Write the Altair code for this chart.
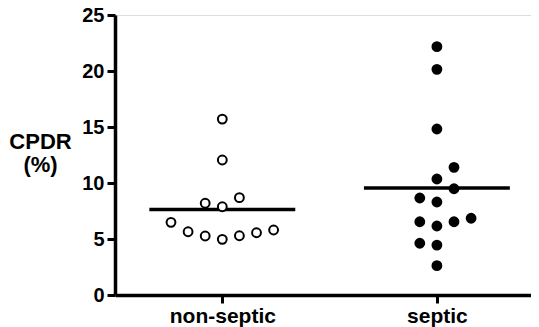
import altair as alt
import pandas as pd

groups = ["non-septic", "septic"]
group_pos = [1, 2]

nonseptic_values = [15.71, 12.05, 8.19, 7.88, 8.69, 6.49, 5.65, 5.27, 4.97, 5.29, 5.56, 5.80]
nonseptic_slots = [0, 0, -1, 0, 1, -3, -2, -1, 0, 1, 2, 3]

septic_values = [22.17, 20.15, 14.82, 11.40, 10.36, 9.49, 8.66, 8.30, 6.54, 6.16, 6.54, 6.85, 4.62, 4.46, 2.62]
septic_slots = [0, 0, 0, 1, 0, 1, -1, 0, -1, 0, 1, 2, -1, 0, 0]

y_ticks = [0, 5, 10, 15, 20, 25]

rows = []
for v, s in zip(nonseptic_values, nonseptic_slots):
    rows.append({"group": groups[0], "gx": group_pos[0], "value": v, "slot": s})
for v, s in zip(septic_values, septic_slots):
    rows.append({"group": groups[1], "gx": group_pos[1], "value": v, "slot": s})
df = pd.DataFrame(rows)

SLOT = 0.0797
HALF = 0.34
FONT = "Liberation Sans"

xscale = alt.Scale(domain=[0.5, 2.4385], nice=False, zero=False)
yscale = alt.Scale(domain=[0, 25], nice=False)

base = alt.Chart(df)

points = base.transform_calculate(
    xp=f"datum.gx + datum.slot * {SLOT}"
).mark_point(shape="circle", filled=True, size=78, stroke="black", strokeWidth=2, opacity=1).encode(
    x=alt.X("xp:Q", scale=xscale,
            axis=alt.Axis(values=group_pos, labelExpr="datum.value == 1 ? 'non-septic' : 'septic'",
                          title=None, grid=False, domainColor="black", domainWidth=3.5,
                          tickColor="black", tickWidth=3, tickSize=8,
                          labelFont=FONT, labelFontSize=21, labelFontWeight="bold",
                          labelColor="black", labelPadding=2)),
    y=alt.Y("value:Q", scale=yscale,
            axis=alt.Axis(values=y_ticks, grid=False, domainColor="black", domainWidth=3.5,
                          tickColor="black", tickWidth=3, tickSize=8,
                          labelFont=FONT, labelFontSize=20, labelFontWeight="bold",
                          labelColor="black", labelPadding=3,
                          title=["CPDR", "(%)"], titleAngle=0, titleAlign="center",
                          titleBaseline="alphabetic", titleX=-75, titleY=133,
                          titleFont=FONT, titleFontSize=22, titleFontWeight="bold",
                          titleColor="black", titleLineHeight=23)),
    fill=alt.Fill("group:N", scale=alt.Scale(domain=groups, range=["white", "black"]), legend=None),
)

means = base.transform_aggregate(
    mean_value="mean(value)", groupby=["group", "gx"]
).transform_calculate(
    x1=f"datum.gx - {HALF}", x2=f"datum.gx + {HALF}"
).mark_rule(color="black", strokeWidth=3.5).encode(
    x=alt.X("x1:Q", scale=xscale),
    x2="x2:Q",
    y=alt.Y("mean_value:Q", scale=yscale),
)

chart = alt.layer(means, points).properties(
    width=416, height=280,
    autosize=alt.AutoSizeParams(type="none"),
    padding={"left": 107, "top": 7, "right": 0, "bottom": 34},
).configure_view(stroke=None).configure(background="white")

chart.save("out.html", embed_options={"renderer": "svg", "actions": False})
